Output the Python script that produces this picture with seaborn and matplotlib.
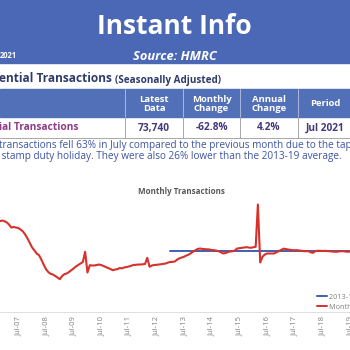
import numpy as np
import pandas as pd
import matplotlib
matplotlib.use("Agg")
import matplotlib.pyplot as plt
import seaborn as sns
from matplotlib.patches import Rectangle
from matplotlib.lines import Line2D

# ---------------- data ----------------
start_month = "2006-10-01"
# Monthly residential transactions, seasonally adjusted (thousands), Oct 2006 - Jul 2019
monthly_k = [
    150.9, 150.5, 151.7, 150.5, 148.4, 145.0, 140.0, 140.9, 140.0,            # Oct06-Jun07
    139.2, 136.7, 133.4, 128.4, 121.7, 114.2,                                 # Jul07-Dec07
    106.7, 101.7, 96.7, 93.9, 86.7, 78.3, 70.8, 65.8, 62.8, 61.7, 59.2, 56.7, # 2008
    53.8, 59.2, 62.2, 63.3, 65.8, 68.8, 71.7, 75.0, 77.5, 80.0, 82.5, 99.5,   # 2009
    65.0, 77.2, 76.7, 76.7, 77.5, 78.3, 77.5, 75.8, 74.2, 72.5, 70.8, 68.8,   # 2010
    70.0, 70.5, 72.5, 72.0, 73.3, 74.2, 75.0, 76.2, 77.5, 77.8, 78.3, 78.3,   # 2011
    78.7, 79.2, 89.5, 74.5, 76.7, 77.5, 77.8, 78.3, 78.8, 79.5, 80.0, 81.7,   # 2012
    82.5, 82.8, 83.4, 86.7, 88.7, 90.0, 91.4, 93.4, 95.0, 97.5, 100.0, 102.5, # 2013
    104.5, 105.0, 104.2, 103.9, 103.7, 103.4, 102.5, 102.2, 101.4, 100.5, 98.6, 96.7,  # 2014
    97.5, 99.2, 100.0, 100.4, 101.7, 105.0, 105.5, 106.2, 106.7, 107.2, 106.7, 106.2,  # 2015
    107.0, 107.9, 178.4, 81.7, 91.2, 95.0, 96.7, 96.7, 96.7, 96.7, 98.6, 100.5,       # 2016
    102.5, 104.7, 104.2, 103.4, 102.8, 102.2, 102.2, 102.2, 101.7, 101.2, 100.5, 100.5, # 2017
    100.5, 98.4, 97.9, 100.7, 101.2, 101.2, 100.9, 101.2, 100.9, 100.5, 100.0, 99.7,   # 2018
    99.5, 100.0, 100.5, 100.5, 100.0, 99.5, 100.0,                                    # 2019
]
avg_start = "2013-01-01"
avg_2013_19_k = 100.5

series_labels = ["2013-19 Average", "Monthly Transactions"]
tick_labels = ["Jul-07", "Jul-08", "Jul-09", "Jul-10", "Jul-11", "Jul-12", "Jul-13",
               "Jul-14", "Jul-15", "Jul-16", "Jul-17", "Jul-18", "Jul-19"]

table_title = "ential Transactions"
table_subtitle = "(Seasonally Adjusted)"
table_headers = ["Latest\nData", "Monthly\nChange", "Annual\nChange", "Period"]
row_label = "ial Transactions"
row_values = ["73,740", "-62.8%", "4.2%", "Jul 2021"]
body_lines = [
    "transactions fell 63% in July compared to the previous month due to the tap",
    " stamp duty holiday. They were also 26% lower than the 2013-19 average.",
]

# ---------------- style ----------------
sns.set_theme(style="white")
plt.rcParams["font.family"] = ["Open Sans", "DejaVu Sans"]

RED = "#D7312C"
BLUE_LINE = "#3F5FAE"
HEAD_BLUE = "#4A68B5"
TAB_BLUE = "#5270B8"
NAVY = "#2F3B6B"
PURPLE = "#8E3A86"
VAL = "#41397A"
BODY = "#3C55A3"
GRAY = "#595959"

W = H = 350
fig = plt.figure(figsize=(3.5, 3.5), dpi=100)
fig.patch.set_facecolor("white")

# overlay in pixel coordinates
ov = fig.add_axes([0, 0, 1, 1])
ov.set_xlim(0, W)
ov.set_ylim(H, 0)
ov.axis("off")

# header band
ov.add_patch(Rectangle((0, 0), W, 63, color=HEAD_BLUE, zorder=0))
ov.text(174, 26.5, "Instant Info", color="white", fontsize=19, fontweight="bold",
        ha="center", va="center")
ov.text(175, 57, "Source: HMRC", color="white", fontsize=9.3, fontweight="bold",
        fontstyle="italic", ha="center", va="center")
ov.text(0, 56, "2021", color="white", fontsize=5.5, fontweight="bold",
        ha="left", va="center")

# table title
ov.text(-1, 79, table_title, color=NAVY, fontsize=8.6, fontweight="bold",
        ha="left", va="center")
ov.text(115, 80, table_subtitle, color=NAVY, fontsize=7.1, fontweight="bold",
        ha="left", va="center")

# table
col_edges = [125, 183, 240, 298, 352]
ov.add_patch(Rectangle((0, 89), W, 28, color=TAB_BLUE, zorder=1))
for xe in col_edges[:-1]:
    ov.plot([xe, xe], [89, 117], color="#B9C4E3", lw=0.6, zorder=2)
    ov.plot([xe, xe], [117, 137.5], color="#9A9A9A", lw=0.6, zorder=2)
ov.plot([0, W], [137.5, 137.5], color="#9A9A9A", lw=0.6, zorder=2)
for i, (hd, vv) in enumerate(zip(table_headers, row_values)):
    cx = (col_edges[i] + col_edges[i + 1]) / 2
    ov.text(cx, 104, hd, color="white", fontsize=6.8, fontweight="bold",
            ha="center", va="center", linespacing=1.0, zorder=3)
    ov.text(cx, 128, vv, color=VAL, fontsize=7.3, fontweight="bold",
            ha="center", va="center", zorder=3)
ov.text(-1, 128, row_label, color=PURPLE, fontsize=7.3, fontweight="bold",
        ha="left", va="center", zorder=3)

# body text
ov.text(-1, 145.5, body_lines[0], color=BODY, fontsize=7.2, ha="left", va="center")
ov.text(-1, 157, body_lines[1], color=BODY, fontsize=7.2, ha="left", va="center")

# chart title
ov.text(181, 192, "Monthly Transactions", color=GRAY, fontsize=5.8,
        fontweight="bold", ha="center", va="center")

# ---------------- line chart ----------------
dates = pd.date_range(start_month, periods=len(monthly_k), freq="MS")
df = pd.DataFrame({"date": dates, "value": monthly_k})
avg_dates = dates[dates >= pd.Timestamp(avg_start)]
df_avg = pd.DataFrame({"date": avg_dates, "value": [avg_2013_19_k] * len(avg_dates)})

ax_bottom_px, ax_top_px = 311.5, 200
ax = fig.add_axes([0, (H - ax_bottom_px) / H, 1, (ax_bottom_px - ax_top_px) / H])
ax.patch.set_alpha(0)
sns.lineplot(data=df_avg, x="date", y="value", ax=ax, color=BLUE_LINE, lw=1.4)
sns.lineplot(data=df, x="date", y="value", ax=ax, color=RED, lw=1.5)

k_per_px = 1.667
ax.set_ylim(0, (ax_bottom_px - ax_top_px) * k_per_px)
ref = pd.Timestamp("2007-07-01")
px_per_day = 27.8 / 365.25
ax.set_xlim(ref - pd.Timedelta(days=18.3 / px_per_day),
            ref + pd.Timedelta(days=(W - 18.3) / px_per_day))
tick_dates = pd.to_datetime(["20" + t[-2:] + "-07-01" for t in tick_labels])
ax.set_xticks(tick_dates)
ax.set_xticklabels(tick_labels, rotation=90, fontsize=5.5, color="#7F7F7F")
ax.tick_params(axis="x", length=0, pad=3.5)
ax.set_yticks([])
ax.set_xlabel("")
ax.set_ylabel("")
for s in ["top", "left", "right"]:
    ax.spines[s].set_visible(False)
ax.spines["bottom"].set_color("#D9D9D9")
ax.spines["bottom"].set_linewidth(0.6)

handles = [Line2D([], [], color=BLUE_LINE, lw=1.4), Line2D([], [], color=RED, lw=1.4)]
fig.legend(handles, series_labels, loc="upper left",
           bbox_to_anchor=(313 / W, (H - 290) / H), frameon=False,
           fontsize=5.2, labelcolor="#7F7F7F", handlelength=1.4, handletextpad=0.3,
           labelspacing=0.45, borderpad=0)

fig.savefig("out.png", dpi=100)
